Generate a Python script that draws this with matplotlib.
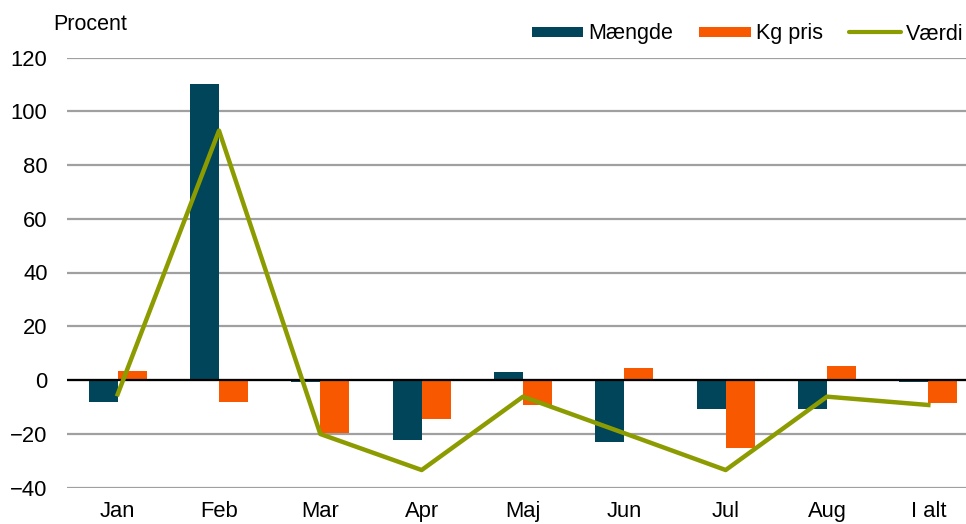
import matplotlib.pyplot as plt
import numpy as np
from matplotlib.lines import Line2D

plt.rcParams['font.family'] = ['Liberation Sans', 'DejaVu Sans']

# Data (percent change)
months = ["Jan", "Feb", "Mar", "Apr", "Maj", "Jun", "Jul", "Aug", "I alt"]
maengde = [-8.1, 110.0, -0.7, -22.3, 3.1, -23.0, -10.9, -10.9, -0.7]
kg_pris = [3.3, -8.3, -19.8, -14.5, -9.3, 4.3, -25.2, 5.3, -8.7]
vaerdi = [-5.3, 92.8, -20.1, -33.5, -6.2, -19.8, -33.5, -6.2, -9.3]

teal = "#004559"
orange = "#f75800"
olive = "#8c9c00"

fig = plt.figure(figsize=(9.66, 5.24), dpi=100)
ax = fig.add_axes([67 / 966, 36.5 / 524, 1 - 67 / 966, 430 / 524])

x = np.arange(len(months))
w = 0.286
ax.bar(x - w / 2, maengde, width=w, color=teal, zorder=3)
ax.bar(x + w / 2, kg_pris, width=w, color=orange, zorder=3)
ax.plot(x, vaerdi, color=olive, linewidth=3.2, zorder=4)

ax.axhline(0, color="black", linewidth=1.6, zorder=3.5)
ax.set_ylim(-40, 120)
ax.set_yticks(range(-40, 121, 20))
ax.set_xlim(-0.5, 8.5 - 13 / 101.4)
ax.set_xticks(x)
ax.set_xticklabels(months)
ax.yaxis.grid(True, color="#a0a0a0", linewidth=1.6, zorder=0)
ax.set_axisbelow(True)
for s in ax.spines.values():
    s.set_visible(False)
ax.tick_params(axis="both", length=0, labelsize=15.8)
ax.tick_params(axis="y", pad=14)
ax.tick_params(axis="x", pad=9.5)

fig.text(53 / 966, 1 - 24 / 524, "Procent", fontsize=15.5, va="center", ha="left")

handles = [
    Line2D([], [], color=teal, linewidth=7.2, solid_capstyle="butt"),
    Line2D([], [], color=orange, linewidth=7.2, solid_capstyle="butt"),
    Line2D([], [], color=olive, linewidth=3, solid_capstyle="round"),
]
fig.legend(handles, ["Mængde", "Kg pris", "Værdi"], ncol=3, loc="center right",
           bbox_to_anchor=(1.0, 1 - 34 / 524), frameon=False, fontsize=15.5,
           handlelength=2.4, handletextpad=0.25, columnspacing=1.2,
           borderaxespad=0, borderpad=0.1)

fig.savefig("out.png", dpi=100)
